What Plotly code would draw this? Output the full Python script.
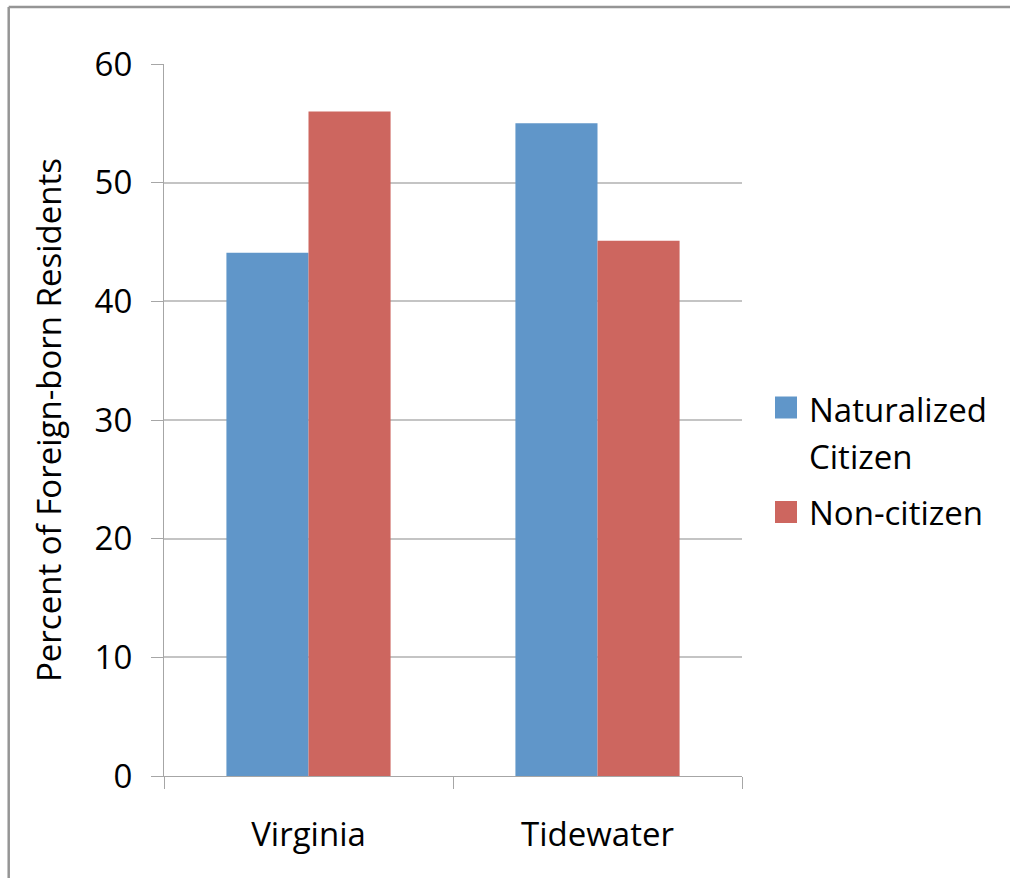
import plotly.graph_objects as go

categories = ["Virginia", "Tidewater"]
naturalized = [44.1, 55.0]
non_citizen = [56.0, 45.1]
series_names = ["Naturalized Citizen", "Non-citizen"]
legend_lines = [["Naturalized", "Citizen"], ["Non-citizen"]]
colors = ["#6096C9", "#CD665F"]
y_ticks = [0, 10, 20, 30, 40, 50, 60]
y_title = "Percent of Foreign-born Residents"

W, H = 1010, 878
L, R, T, B = 164, 268, 64, 102
PW, PH = W - L - R, H - T - B
FONT = "Open Sans"
FS = 33


def px_x(x):
    return (x - L) / PW


def px_y(y):
    return (H - B - y) / PH


fig = go.Figure()
for name, vals, col in zip(series_names, [naturalized, non_citizen], colors):
    fig.add_trace(go.Bar(x=categories, y=vals, name=name, marker=dict(color=col, line=dict(width=0))))

axis_col = "#a6a6a6"
fig.update_layout(
    width=W, height=H,
    margin=dict(l=L, r=R, t=T, b=B),
    paper_bgcolor="white", plot_bgcolor="white",
    barmode="group", bargap=0.432, bargroupgap=0,
    showlegend=False,
    font=dict(family=FONT, size=FS, color="black"),
    xaxis=dict(
        showline=True, linecolor=axis_col, linewidth=1.2,
        ticks="outside", tickson="boundaries", ticklen=12, tickcolor=axis_col, tickwidth=1.2,
        showgrid=False, ticklabelstandoff=29,
        tickfont=dict(family=FONT, size=FS),
    ),
    yaxis=dict(
        range=[0, 60], tickvals=y_ticks,
        showline=True, linecolor=axis_col, linewidth=1.2,
        ticks="outside", ticklen=12, tickcolor=axis_col, tickwidth=1.2,
        showgrid=True, gridcolor="#c4c4c4", gridwidth=1.5,
        zeroline=False, ticklabelstandoff=12,
        tickfont=dict(family=FONT, size=FS),
        title=dict(text=y_title, font=dict(family=FONT, size=FS), standoff=22),
    ),
)

shapes = []
border_col = "#959595"
bx, by = px_x(8.7), px_y(7)
shapes.append(dict(type="line", xref="paper", yref="paper", x0=bx, x1=px_x(1015), y0=by, y1=by,
                   line=dict(color=border_col, width=2.5)))
shapes.append(dict(type="line", xref="paper", yref="paper", x0=bx, x1=bx, y0=by, y1=px_y(885),
                   line=dict(color=border_col, width=2.5)))

# custom legend
sq_centers = [407.5, 512]
line_centers = [[409, 456], [512.5]]
annotations = []
for col, cy, lines, lcs in zip(colors, sq_centers, legend_lines, line_centers):
    shapes.append(dict(type="rect", xref="paper", yref="paper",
                       x0=px_x(775), x1=px_x(797), y0=px_y(cy + 11), y1=px_y(cy - 11),
                       fillcolor=col, line=dict(width=0)))
    for txt, ly in zip(lines, lcs):
        annotations.append(dict(text=txt, xref="paper", yref="paper", x=px_x(807), y=px_y(ly),
                                xanchor="left", yanchor="middle", showarrow=False,
                                font=dict(family=FONT, size=FS, color="black")))

fig.update_layout(shapes=shapes, annotations=annotations)
fig.write_html("out.html")
